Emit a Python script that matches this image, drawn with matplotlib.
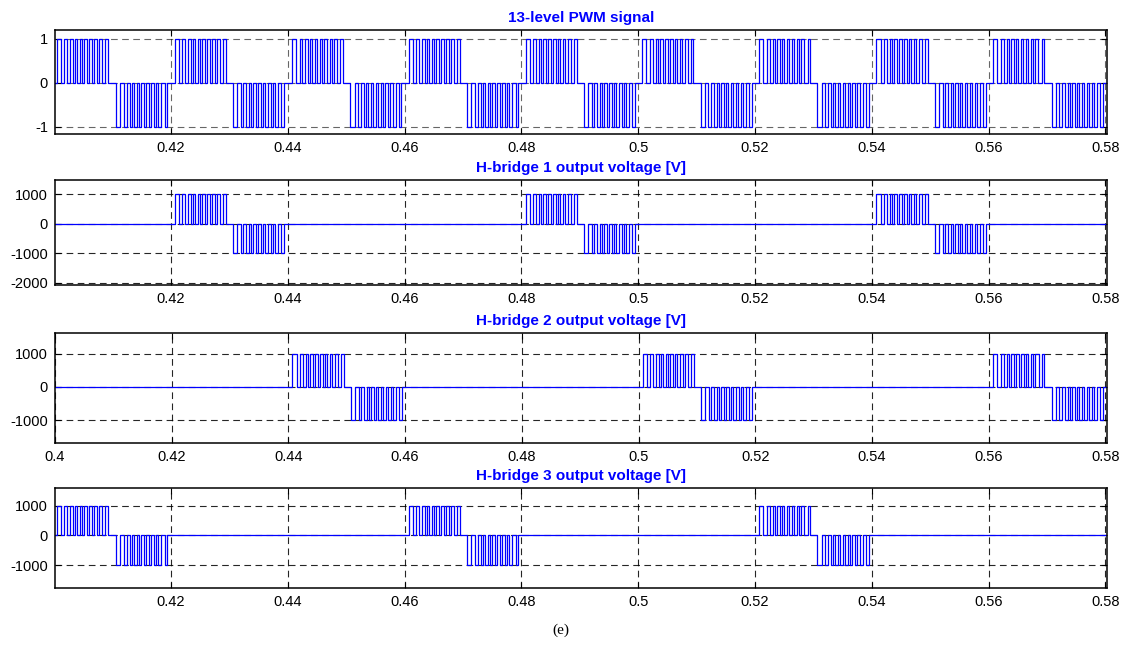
import numpy as np
import matplotlib
matplotlib.use('Agg')
import matplotlib.pyplot as plt
from matplotlib.ticker import FuncFormatter

# switching edges inside one PWM block (ms from block start)
pulse_edges_ms = [0, 0.72, 1.32, 1.80, 2.31, 2.73, 3.07, 3.51, 3.93, 4.32,
                  4.73, 5.18, 5.57, 5.98, 6.44, 6.84, 7.23, 7.75, 8.31, 8.75]

# block start times [s]
pwm_pos = [0.4004, 0.4206, 0.4407, 0.4607, 0.4807, 0.5007, 0.5207, 0.5408, 0.5608]
pwm_neg = [0.4106, 0.4306, 0.4507, 0.4707, 0.4907, 0.5107, 0.5307, 0.5508, 0.5708]
hb1_pos = [0.4206, 0.4807, 0.5408]
hb1_neg = [0.4306, 0.4907, 0.5508]
hb2_pos = [0.4407, 0.5007, 0.5608]
hb2_neg = [0.4507, 0.5107, 0.5708]
hb3_pos = [0.4004, 0.4607, 0.5207]
hb3_neg = [0.4106, 0.4707, 0.5307]

titles = ['13-level PWM signal', 'H-bridge 1 output voltage [V]',
          'H-bridge 2 output voltage [V]', 'H-bridge 3 output voltage [V]']
yticks = [[-1, 0, 1], [-2000, -1000, 0, 1000], [-1000, 0, 1000], [-1000, 0, 1000]]
ylims = [(-1.16, 1.2), (-2080, 1490), (-1690, 1620), (-1760, 1590)]
xticks = [0.42, 0.44, 0.46, 0.48, 0.5, 0.52, 0.54, 0.56, 0.58]
t_start, t_end = 0.4, 0.5802


def make_wave(pos, neg, amp):
    ev = [(t_start, 0.0)]
    for starts, sgn in ((pos, 1), (neg, -1)):
        for s in starts:
            for i, e in enumerate(pulse_edges_ms):
                lvl = sgn * amp if i % 2 == 0 else 0.0
                ev.append((s + e / 1000.0, lvl))
    ev.sort()
    t = [p[0] for p in ev] + [t_end]
    v = [p[1] for p in ev] + [ev[-1][1]]
    return np.array(t), np.array(v)


waves = [make_wave(pwm_pos, pwm_neg, 1), make_wave(hb1_pos, hb1_neg, 1000),
         make_wave(hb2_pos, hb2_neg, 1000), make_wave(hb3_pos, hb3_neg, 1000)]

plt.rcParams['font.family'] = ['Liberation Sans', 'DejaVu Sans']
fig = plt.figure(figsize=(11.22, 6.45), dpi=100)

# axes boxes in pixels (left, top, right, bottom)
boxes = [(55, 30, 1106.5, 134), (55, 180, 1106.5, 285),
         (55, 333, 1106.5, 443), (55, 488, 1106.5, 588)]

for k in range(4):
    l, tp, r, b = boxes[k]
    ax = fig.add_axes([l / 1122, 1 - b / 645, (r - l) / 1122, (b - tp) / 645])
    t, v = waves[k]
    ax.plot(t, v, color='#0000ff', lw=0.9, drawstyle='steps-post')
    if k == 2:
        ax.set_xlim(0.4, t_end)
        ax.set_xticks([0.4] + xticks)
    else:
        ax.set_xlim(0.40012, t_end)
        ax.set_xticks(xticks)
    ax.set_ylim(*ylims[k])
    ax.set_yticks(yticks[k])
    fmt = FuncFormatter(lambda x, p: '%g' % round(x, 4))
    ax.xaxis.set_major_formatter(fmt)
    ax.yaxis.set_major_formatter(fmt)
    ax.grid(True, color='k', lw=0.8, linestyle=(0, (6, 4)),
            alpha=0.6 if k == 0 else 0.85)
    ax.tick_params(direction='in', top=True, right=True, length=4, width=0.8,
                   labelsize=10.5, pad=5)
    for sp in ax.spines.values():
        sp.set_linewidth(1.1)
    ax.set_title(titles[k], color='#0000ff', fontweight='bold', fontsize=11, pad=6)

fig.text(0.5, 1 - 630 / 645, '(e)', ha='center', va='center',
         family=['Liberation Serif', 'DejaVu Serif'], fontsize=11)

fig.savefig('out.png', dpi=100)
